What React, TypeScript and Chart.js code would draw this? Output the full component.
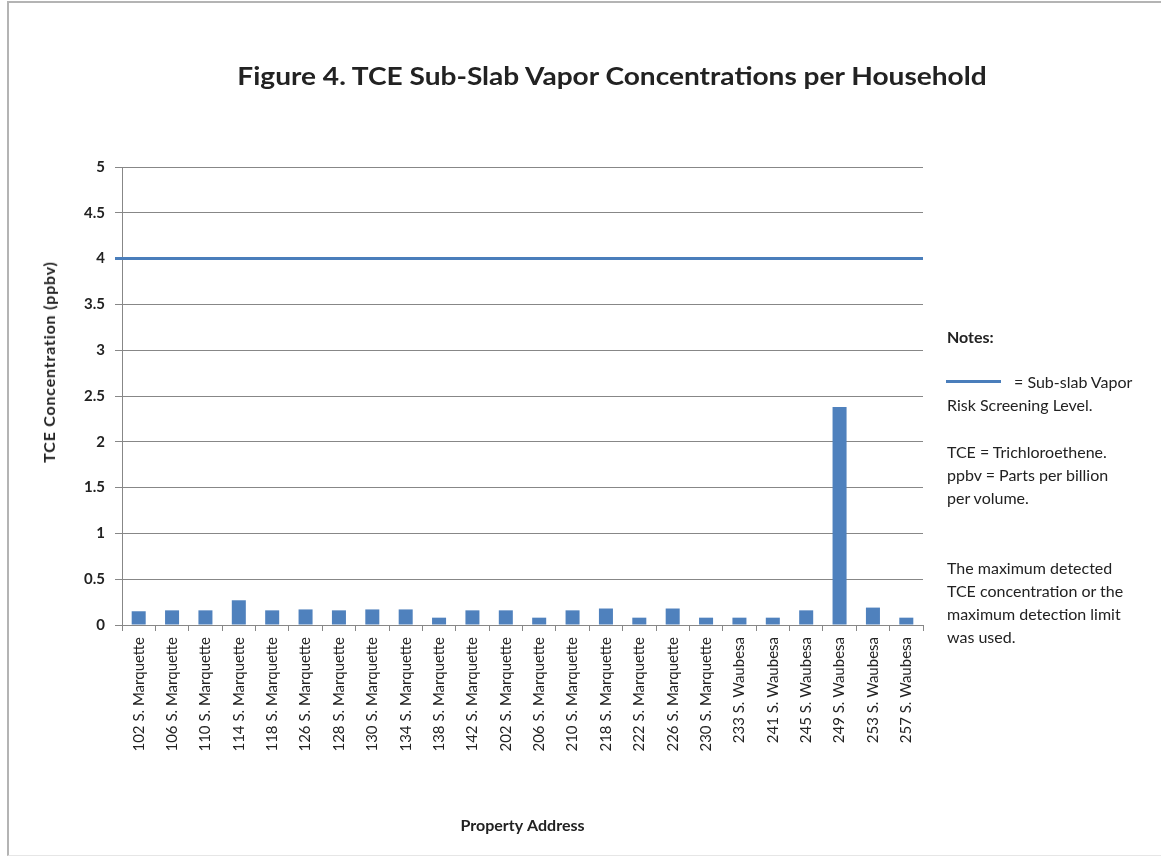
import React, { useEffect, useRef } from "react";
import { Chart, registerables } from "chart.js";

Chart.register(...registerables);

const categories = [
  "102 S. Marquette",
  "106 S. Marquette",
  "110 S. Marquette",
  "114 S. Marquette",
  "118 S. Marquette",
  "126 S. Marquette",
  "128 S. Marquette",
  "130 S. Marquette",
  "134 S. Marquette",
  "138 S. Marquette",
  "142 S. Marquette",
  "202 S. Marquette",
  "206 S. Marquette",
  "210 S. Marquette",
  "218 S. Marquette",
  "222 S. Marquette",
  "226 S. Marquette",
  "230 S. Marquette",
  "233 S. Waubesa",
  "241 S. Waubesa",
  "245 S. Waubesa",
  "249 S. Waubesa",
  "253 S. Waubesa",
  "257 S. Waubesa",
];

const tceValues = [
  0.15, 0.16, 0.16, 0.27, 0.16, 0.17, 0.16, 0.17, 0.17, 0.08, 0.16, 0.16,
  0.08, 0.16, 0.18, 0.08, 0.18, 0.08, 0.08, 0.08, 0.16, 2.38, 0.19, 0.08,
];

const screeningLevel = 4;
const yMin = 0;
const yMax = 5;
const yStep = 0.5;

const FONT = "Lato, 'Open Sans', sans-serif";
const TEXT = "#222222";
const GRID = "#878787";
const BAR = "#4f81bd";
const LINE = "#4a7ebb";

const screeningLinePlugin = {
  id: "screeningLine",
  afterDatasetsDraw(chart: any) {
    const { ctx, chartArea } = chart;
    const y = chart.scales.y.getPixelForValue(screeningLevel);
    ctx.save();
    ctx.strokeStyle = LINE;
    ctx.lineWidth = 3;
    ctx.beginPath();
    ctx.moveTo(chartArea.left - 7, y);
    ctx.lineTo(chartArea.right, y);
    ctx.stroke();
    ctx.restore();
  },
};

const noteLines: { text: string; y: number; bold?: boolean; x?: number }[] = [
  { text: "Notes:", y: 337, bold: true },
  { text: "=  Sub-slab Vapor", y: 382, x: 1014 },
  { text: "Risk Screening Level.", y: 405 },
  { text: "TCE = Trichloroethene.", y: 452 },
  { text: "ppbv = Parts per billion", y: 475 },
  { text: "per volume.", y: 498 },
  { text: "The maximum detected", y: 568 },
  { text: "TCE concentration or the", y: 591 },
  { text: "maximum detection limit", y: 614 },
  { text: "was used.", y: 637 },
];

export default function App() {
  const canvasRef = useRef<HTMLCanvasElement | null>(null);

  useEffect(() => {
    if (!canvasRef.current) return;
    const chart = new Chart(canvasRef.current, {
      type: "bar",
      data: {
        labels: categories,
        datasets: [
          {
            label: "TCE Concentration",
            data: tceValues,
            backgroundColor: BAR,
            borderWidth: 0,
            barPercentage: 0.42,
            categoryPercentage: 1,
          },
        ],
      },
      options: {
        responsive: false,
        animation: false,
        devicePixelRatio: 1,
        layout: { padding: { left: 0, top: 167, right: 238, bottom: 20 } },
        plugins: {
          legend: { display: false },
          tooltip: { enabled: false },
          title: { display: false },
        },
        scales: {
          x: {
            grid: {
              display: true,
              drawOnChartArea: false,
              offset: true,
              tickLength: 6,
              color: GRID,
            },
            border: { color: GRID, width: 1 },
            ticks: {
              autoSkip: false,
              maxRotation: 90,
              minRotation: 90,
              padding: 6,
              color: TEXT,
              font: { family: FONT, size: 15 },
            },
            title: {
              display: true,
              text: "Property Address",
              color: TEXT,
              font: { family: FONT, size: 16, weight: "bold" },
              padding: { top: 4, bottom: 4 },
            },
            afterFit(scale: any) {
              scale.height = 214;
            },
          },
          y: {
            min: yMin,
            max: yMax,
            ticks: {
              stepSize: yStep,
              padding: 10,
              color: TEXT,
              font: { family: FONT, size: 15, weight: "bold" },
              callback: (v: any) => String(v),
            },
            grid: { color: GRID, tickLength: 7 },
            border: { color: GRID, width: 1 },
            afterFit(scale: any) {
              scale.width = 122;
            },
          },
        },
      },
      plugins: [screeningLinePlugin],
    });
    return () => chart.destroy();
  }, []);

  return (
    <div
      style={{
        position: "absolute",
        left: 0,
        top: 0,
        width: 1161,
        height: 859,
        overflow: "hidden",
        background: "#fff",
        fontFamily: FONT,
        color: TEXT,
      }}
    >
      <div
        style={{
          position: "absolute",
          left: 7,
          top: 1,
          width: 1200,
          height: 852,
          borderLeft: "2px solid #b4b4b4",
          borderTop: "2px solid #b4b4b4",
          borderBottom: "1px solid #e6e6e6",
        }}
      />
      <canvas
        ref={canvasRef}
        width={1161}
        height={859}
        style={{ position: "absolute", left: 0, top: 0, display: "block" }}
      />
      <div
        style={{
          position: "absolute",
          left: 212,
          width: 800,
          top: 64,
          textAlign: "center",
          fontSize: 24,
          lineHeight: "24px",
          fontWeight: 700,
          whiteSpace: "nowrap",
          transform: "scaleX(1.17)",
          transformOrigin: "50% 50%",
        }}
      >
        Figure 4. TCE Sub-Slab Vapor Concentrations per Household
      </div>
      <div
        style={{
          position: "absolute",
          left: 49,
          top: 362,
          transform: "translate(-50%, -50%) rotate(-90deg)",
          fontSize: 16,
          letterSpacing: 0.8,
          fontWeight: 700,
          whiteSpace: "nowrap",
          lineHeight: "18px",
        }}
      >
        TCE Concentration (ppbv)
      </div>
      <div
        style={{
          position: "absolute",
          left: 946,
          top: 380,
          width: 55,
          height: 3,
          background: LINE,
        }}
      />
      {noteLines.map((n, i) => (
        <div
          key={i}
          style={{
            position: "absolute",
            left: n.x ?? 947,
            top: n.y - 11,
            fontSize: 16,
            lineHeight: "22px",
            fontWeight: n.bold ? 700 : 400,
            whiteSpace: "nowrap",
          }}
        >
          {n.text}
        </div>
      ))}
    </div>
  );
}
